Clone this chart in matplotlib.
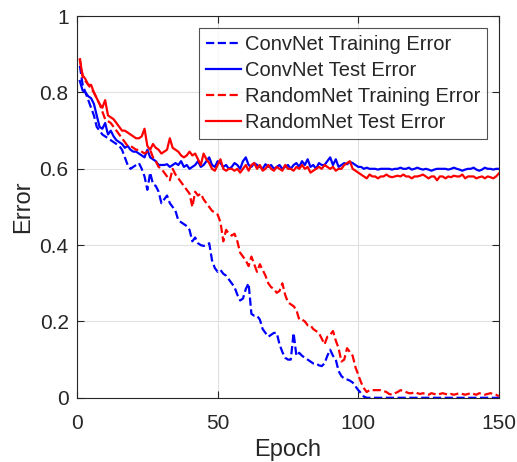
import matplotlib
matplotlib.use("Agg")
import matplotlib.pyplot as plt
import numpy as np

plt.rcParams['font.family'] = ['Liberation Sans', 'DejaVu Sans']

epochs = list(range(1, 151))

convnet_train = [
    0.87, 0.82, 0.80, 0.78, 0.76, 0.74, 0.71, 0.70, 0.69, 0.685,
    0.68, 0.675, 0.67, 0.665, 0.66, 0.65, 0.63, 0.61, 0.60, 0.605,
    0.61, 0.615, 0.60, 0.58, 0.545, 0.59, 0.56, 0.555, 0.54, 0.51,
    0.52, 0.53, 0.51, 0.50, 0.49, 0.465, 0.46, 0.455, 0.45, 0.44,
    0.41, 0.42, 0.405, 0.40, 0.398, 0.40, 0.405, 0.36, 0.34, 0.33,
    0.335, 0.325, 0.32, 0.31, 0.30, 0.29, 0.27, 0.255, 0.26, 0.285,
    0.30, 0.22, 0.215, 0.215, 0.205, 0.18, 0.17, 0.16, 0.165, 0.17,
    0.17, 0.14, 0.12, 0.105, 0.10, 0.10, 0.17, 0.11, 0.118, 0.11,
    0.105, 0.10, 0.095, 0.09, 0.09, 0.085, 0.083, 0.09, 0.11, 0.126,
    0.11, 0.10, 0.07, 0.057, 0.05, 0.048, 0.045, 0.04, 0.03, 0.02,
    0.012, 0.003, 0, 0, 0, 0, 0, 0, 0, 0,
    0, 0, 0, 0, 0, 0, 0, 0, 0, 0,
    0, 0, 0, 0, 0, 0, 0, 0, 0, 0,
    0, 0, 0, 0, 0, 0, 0, 0, 0, 0,
    0, 0, 0, 0, 0, 0, 0, 0, 0, 0,
]

convnet_test = [
    0.83, 0.805, 0.80, 0.79, 0.785, 0.77, 0.74, 0.71, 0.705, 0.72,
    0.69, 0.70, 0.685, 0.675, 0.67, 0.665, 0.655, 0.66, 0.65, 0.645,
    0.645, 0.64, 0.635, 0.63, 0.65, 0.63, 0.625, 0.62, 0.61, 0.61,
    0.61, 0.612, 0.605, 0.61, 0.615, 0.61, 0.62, 0.605, 0.61, 0.60,
    0.605, 0.61, 0.62, 0.605, 0.61, 0.62, 0.63, 0.61, 0.605, 0.62,
    0.615, 0.605, 0.61, 0.60, 0.605, 0.615, 0.61, 0.60, 0.62, 0.63,
    0.61, 0.605, 0.615, 0.61, 0.605, 0.60, 0.612, 0.605, 0.61, 0.60,
    0.605, 0.61, 0.60, 0.605, 0.61, 0.60, 0.61, 0.615, 0.605, 0.62,
    0.61, 0.625, 0.605, 0.61, 0.60, 0.615, 0.61, 0.61, 0.62, 0.63,
    0.61, 0.625, 0.605, 0.61, 0.615, 0.612, 0.618, 0.615, 0.61, 0.605,
    0.605, 0.60, 0.603, 0.60, 0.60, 0.60, 0.598, 0.60, 0.60, 0.60,
    0.60, 0.598, 0.60, 0.60, 0.603, 0.60, 0.60, 0.603, 0.598, 0.60,
    0.603, 0.60, 0.598, 0.60, 0.598, 0.595, 0.598, 0.60, 0.60, 0.60,
    0.60, 0.598, 0.60, 0.603, 0.60, 0.598, 0.595, 0.598, 0.60, 0.60,
    0.603, 0.598, 0.595, 0.598, 0.603, 0.60, 0.60, 0.598, 0.60, 0.60,
]

randomnet_train = [
    0.89, 0.84, 0.83, 0.82, 0.81, 0.80, 0.785, 0.77, 0.75, 0.73,
    0.725, 0.72, 0.71, 0.70, 0.69, 0.68, 0.67, 0.66, 0.66, 0.655,
    0.65, 0.65, 0.645, 0.64, 0.645, 0.65, 0.63, 0.62, 0.605, 0.60,
    0.59, 0.58, 0.57, 0.60, 0.585, 0.575, 0.565, 0.555, 0.545, 0.535,
    0.50, 0.54, 0.53, 0.535, 0.52, 0.51, 0.50, 0.49, 0.485, 0.48,
    0.46, 0.41, 0.44, 0.43, 0.425, 0.43, 0.41, 0.38, 0.37, 0.36,
    0.345, 0.37, 0.35, 0.33, 0.35, 0.335, 0.32, 0.30, 0.29, 0.285,
    0.275, 0.28, 0.30, 0.27, 0.25, 0.245, 0.24, 0.23, 0.205, 0.205,
    0.20, 0.19, 0.19, 0.18, 0.175, 0.17, 0.155, 0.14, 0.16, 0.165,
    0.175, 0.15, 0.13, 0.095, 0.10, 0.13, 0.12, 0.11, 0.08, 0.06,
    0.04, 0.025, 0.015, 0.02, 0.02, 0.02, 0.02, 0.02, 0.018, 0.015,
    0.01, 0.008, 0.012, 0.015, 0.02, 0.018, 0.015, 0.012, 0.012, 0.015,
    0.012, 0.01, 0.012, 0.01, 0.008, 0.012, 0.01, 0.008, 0.01, 0.012,
    0.01, 0.008, 0.01, 0.008, 0.01, 0.012, 0.01, 0.008, 0.01, 0.012,
    0.01, 0.008, 0.012, 0.01, 0.008, 0.01, 0.012, 0.01, 0.008, 0.004,
]

randomnet_test = [
    0.885, 0.845, 0.835, 0.82, 0.82, 0.80, 0.785, 0.77, 0.76, 0.78,
    0.74, 0.735, 0.73, 0.72, 0.71, 0.70, 0.70, 0.695, 0.69, 0.685,
    0.68, 0.68, 0.685, 0.705, 0.66, 0.65, 0.665, 0.655, 0.65, 0.64,
    0.645, 0.65, 0.68, 0.655, 0.65, 0.645, 0.635, 0.63, 0.635, 0.645,
    0.635, 0.64, 0.625, 0.61, 0.64, 0.625, 0.615, 0.60, 0.595, 0.61,
    0.625, 0.60, 0.595, 0.60, 0.60, 0.595, 0.60, 0.59, 0.60, 0.61,
    0.595, 0.61, 0.615, 0.60, 0.61, 0.595, 0.60, 0.61, 0.60, 0.595,
    0.605, 0.60, 0.595, 0.61, 0.60, 0.60, 0.595, 0.605, 0.60, 0.61,
    0.60, 0.605, 0.59, 0.595, 0.60, 0.605, 0.60, 0.61, 0.605, 0.60,
    0.605, 0.595, 0.60, 0.60, 0.61, 0.615, 0.62, 0.60, 0.595, 0.59,
    0.585, 0.58, 0.575, 0.585, 0.58, 0.58, 0.575, 0.58, 0.58, 0.585,
    0.58, 0.578, 0.58, 0.582, 0.58, 0.585, 0.58, 0.58, 0.575, 0.58,
    0.58, 0.582, 0.585, 0.58, 0.575, 0.58, 0.58, 0.57, 0.58, 0.58,
    0.575, 0.58, 0.578, 0.582, 0.58, 0.58, 0.585, 0.575, 0.58, 0.58,
    0.58, 0.575, 0.578, 0.58, 0.575, 0.58, 0.578, 0.575, 0.58, 0.588,
]

labels = ['ConvNet Training Error', 'ConvNet Test Error',
          'RandomNet Training Error', 'RandomNet Test Error']
x_ticks = [0, 50, 100, 150]
y_ticks = [0, 0.2, 0.4, 0.6, 0.8, 1]
y_ticklabels = ['0', '0.2', '0.4', '0.6', '0.8', '1']

fig = plt.figure(figsize=(5.17, 4.62), dpi=100)
ax = fig.add_axes([0.149, 0.139, 0.816, 0.826])

lw = 1.6
ax.plot(epochs, convnet_train, color='#0000ff', ls='--', lw=lw, label=labels[0])
ax.plot(epochs, convnet_test, color='#0000ff', ls='-', lw=lw, label=labels[1])
ax.plot(epochs, randomnet_train, color='#ff0000', ls='--', lw=lw, label=labels[2])
ax.plot(epochs, randomnet_test, color='#ff0000', ls='-', lw=lw, label=labels[3])

ax.set_xlim(0, 150)
ax.set_ylim(0, 1)
ax.set_xticks(x_ticks)
ax.set_yticks(y_ticks)
ax.set_yticklabels(y_ticklabels)
ax.grid(True, color='#e0e0e0', lw=0.8)
ax.set_axisbelow(True)
ax.tick_params(direction='in', top=True, right=True, labelsize=15,
               colors='#262626', length=5, width=0.8, pad=6)
ax.tick_params(axis='x', pad=12)
for s in ax.spines.values():
    s.set_color('#262626')
    s.set_linewidth(0.8)
ax.set_xlabel('Epoch', fontsize=17, color='#262626', labelpad=4)
ax.set_ylabel('Error', fontsize=17, color='#262626', labelpad=4)

leg = ax.legend(loc='upper right', bbox_to_anchor=(0.9716, 0.9686), fontsize=14.5,
                frameon=True, fancybox=False, edgecolor='#262626',
                handlelength=1.75, handletextpad=0.2, labelspacing=0.36,
                borderpad=0.32, borderaxespad=0)
leg.get_frame().set_linewidth(0.8)
for t in leg.get_texts():
    t.set_color('#262626')

fig.savefig('out.png', dpi=100)
